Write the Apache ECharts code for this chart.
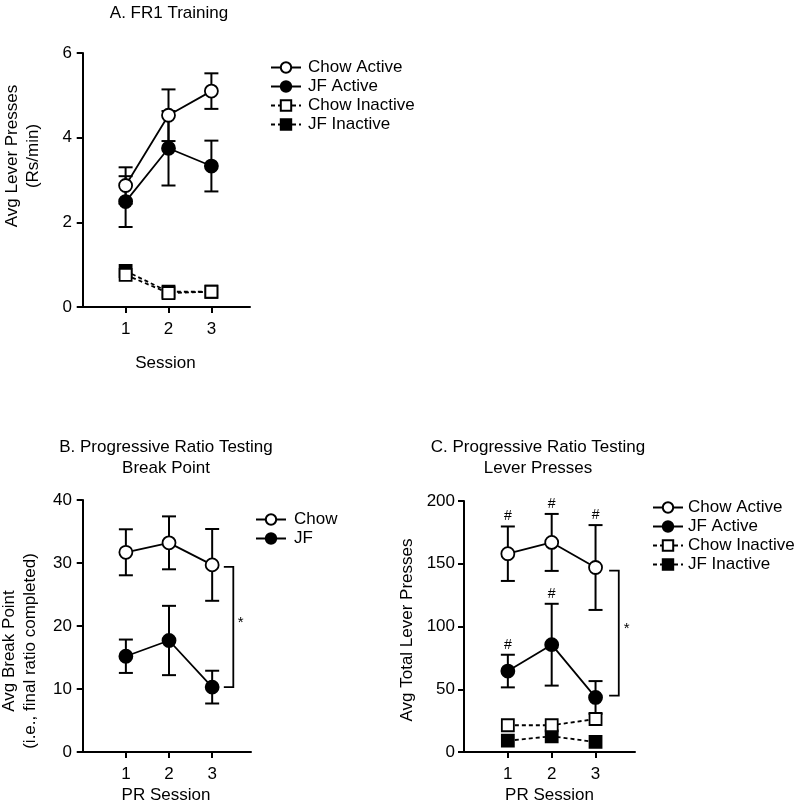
<!DOCTYPE html>
<html>
<head>
<meta charset="utf-8">
<script src="https://cdn.jsdelivr.net/npm/echarts@6/dist/echarts.min.js"></script>
<style>html,body{margin:0;padding:0;background:#fff}#c{width:800px;height:805px}</style>
</head>
<body>
<div id="c"></div>
<script>
// ---------- data ----------
const sessions = [1, 2, 3];
const sessionTicks = [1, 2, 3];

// Panel A: FR1 training (Rs/min)
const fr1ChowActive = [2.87, 4.53, 5.10];
const fr1ChowActiveSem = [0.43, 0.61, 0.42];
const fr1JFActive = [2.49, 3.75, 3.33];
const fr1JFActiveSem = [0.60, 0.88, 0.60];
const fr1ChowInactive = [0.76, 0.33, 0.36];
const fr1JFInactive = [0.85, 0.36, 0.36];
const fr1YTicks = [0, 2, 4, 6];

// Panel B: PR break point
const bpChow = [31.7, 33.2, 29.7];
const bpChowSem = [3.65, 4.2, 5.7];
const bpJF = [15.2, 17.7, 10.3];
const bpJFSem = [2.65, 5.5, 2.6];
const bpYTicks = [0, 10, 20, 30, 40];
const bpBracket = [29.4, 10.3];

// Panel C: PR lever presses
const lpChowActive = [158, 167, 147];
const lpChowActiveSem = [21.7, 22.7, 33.8];
const lpJFActive = [64.5, 85.5, 43.5];
const lpJFActiveSem = [13, 32.6, 13];
const lpChowInactive = [21.3, 21.3, 26.3];
const lpJFInactive = [9, 12.5, 8];
const lpYTicks = [0, 50, 100, 150, 200];
const lpBracket = [144.5, 45];
const lpChowHash = [true, true, true];
const lpJFHash = [true, true, false];

// ---------- helpers ----------
const FONT = "'Liberation Sans', Arial, sans-serif";
const BLACK = '#000';

function pts(xs, ys) { return xs.map((x, i) => [x, ys[i]]); }
function errData(xs, ys, sem) { return xs.map((x, i) => [x, ys[i] - sem[i], ys[i] + sem[i]]); }

function errSeries(idx, xs, ys, sem) {
  return {
    type: 'custom', xAxisIndex: idx, yAxisIndex: idx, z: 2, silent: true,
    data: errData(xs, ys, sem),
    renderItem: function (params, api) {
      const x = api.value(0);
      const lo = api.coord([x, api.value(1)]);
      const hi = api.coord([x, api.value(2)]);
      const w = 7;
      const st = { stroke: BLACK, lineWidth: 2 };
      return {
        type: 'group', children: [
          { type: 'line', shape: { x1: lo[0], y1: lo[1], x2: hi[0], y2: hi[1] }, style: st },
          { type: 'line', shape: { x1: hi[0] - w, y1: hi[1], x2: hi[0] + w, y2: hi[1] }, style: st },
          { type: 'line', shape: { x1: lo[0] - w, y1: lo[1], x2: lo[0] + w, y2: lo[1] }, style: st }
        ]
      };
    }
  };
}

function lineSeries(name, idx, xs, ys, opts) {
  return {
    name: name, type: 'line', xAxisIndex: idx, yAxisIndex: idx,
    data: pts(xs, ys), z: opts.z || 5,
    symbol: opts.symbol, symbolSize: opts.size || 13,
    lineStyle: { color: BLACK, width: 1.8, type: opts.dashed ? [4, 3] : 'solid' },
    itemStyle: { color: opts.filled ? BLACK : '#fff', borderColor: BLACK, borderWidth: 1.8 },
    emphasis: { disabled: true }, animation: false
  };
}

function bracketSeries(idx, x1, x2, xs, yv) {
  return {
    type: 'custom', xAxisIndex: idx, yAxisIndex: idx, z: 3, silent: true,
    data: [[x1, yv[0], yv[1], x2, xs]],
    renderItem: function (params, api) {
      const a = api.coord([api.value(0), api.value(1)]);
      const b = api.coord([api.value(3), api.value(1)]);
      const c = api.coord([api.value(3), api.value(2)]);
      const d = api.coord([api.value(0), api.value(2)]);
      const s = api.coord([api.value(4), (api.value(1) + api.value(2)) / 2]);
      return {
        type: 'group', children: [
          { type: 'polyline', shape: { points: [a, b, c, d] }, style: { stroke: BLACK, lineWidth: 1.8, fill: null } },
          { type: 'text', x: s[0], y: s[1] - 4, style: { text: '*', fill: BLACK, font: '15px ' + FONT, align: 'center', verticalAlign: 'middle' } }
        ]
      };
    }
  };
}

function hashSeries(idx, xs, ys, sem, flags) {
  const d = [];
  xs.forEach((x, i) => { if (flags[i]) d.push([x, ys[i] + sem[i]]); });
  return {
    type: 'custom', xAxisIndex: idx, yAxisIndex: idx, z: 3, silent: true, data: d,
    renderItem: function (params, api) {
      const p = api.coord([api.value(0), api.value(1)]);
      return { type: 'text', x: p[0], y: p[1] - 3, style: { text: '#', fill: BLACK, font: '14px ' + FONT, align: 'center', verticalAlign: 'bottom' } };
    }
  };
}

function xAxisCfg(idx, min, name, gap) {
  return {
    type: 'value', gridIndex: idx, min: min, max: 3.9,
    name: name, nameLocation: 'middle', nameGap: gap,
    nameTextStyle: { color: BLACK, fontSize: 17, fontFamily: FONT },
    axisLine: { show: true, lineStyle: { color: BLACK, width: 2 } },
    axisTick: { show: true, length: 6, lineStyle: { color: BLACK, width: 2 }, customValues: sessionTicks },
    axisLabel: { color: BLACK, fontSize: 17, fontFamily: FONT, margin: 14, customValues: sessionTicks },
    splitLine: { show: false }
  };
}
function yAxisCfg(idx, ticks) {
  return {
    type: 'value', gridIndex: idx, min: ticks[0], max: ticks[ticks.length - 1], interval: ticks[1] - ticks[0],
    axisLine: { show: true, lineStyle: { color: BLACK, width: 2 } },
    axisTick: { show: true, length: 6, lineStyle: { color: BLACK, width: 2 } },
    axisLabel: { color: BLACK, fontSize: 17, fontFamily: FONT, margin: 9 },
    splitLine: { show: false }
  };
}
function legendCfg(names, left, top, gap, pad) {
  return {
    data: names, left: left, top: top, orient: 'vertical', itemGap: gap,
    itemWidth: 30, itemHeight: 13, selectedMode: false, padding: 0,
    textStyle: { color: BLACK, fontSize: 17, fontFamily: FONT, padding: [0, 0, 0, pad] }
  };
}
function gtext(x, y, text, rot) {
  return {
    type: 'text', x: x, y: y, rotation: rot || 0,
    style: { text: text, fill: BLACK, font: '17px ' + FONT, align: 'center', verticalAlign: 'middle', lineHeight: 21 }
  };
}

const chart = echarts.init(document.getElementById('c'), null, { renderer: 'canvas' });
chart.setOption({
  animation: false,
  backgroundColor: '#fff',
  grid: [
    { left: 81, top: 53, width: 169, height: 254 },
    { left: 81, top: 500, width: 170, height: 253 },
    { left: 464, top: 501, width: 171, height: 253 }
  ],
  xAxis: [xAxisCfg(0, -0.04, 'Session', 48), xAxisCfg(1, -0.04, 'PR Session', 35), xAxisCfg(2, 0, 'PR Session', 35)],
  yAxis: [yAxisCfg(0, fr1YTicks), yAxisCfg(1, bpYTicks), yAxisCfg(2, lpYTicks)],
  legend: [
    legendCfg(['Chow Active', 'JF Active', 'Chow Inactive', 'JF Inactive'], 270, 59, 2, 2),
    legendCfg(['Chow', 'JF'], 255, 511, 2, 3),
    legendCfg(['Chow Active', 'JF Active', 'Chow Inactive', 'JF Inactive'], 652, 499, 2, 0)
  ],
  graphic: [
    gtext(169, 13, 'A. FR1 Training'),
    gtext(166, 458, 'B. Progressive Ratio Testing\nBreak Point'),
    gtext(538, 458, 'C. Progressive Ratio Testing\nLever Presses'),
    gtext(23, 156, 'Avg Lever Presses\n(Rs/min)', Math.PI / 2),
    gtext(20, 651, 'Avg Break Point\n(i.e., final ratio completed)', Math.PI / 2),
    gtext(407, 630, 'Avg Total Lever Presses', Math.PI / 2)
  ],
  series: [
    // Panel A
    errSeries(0, sessions, fr1ChowActive, fr1ChowActiveSem),
    errSeries(0, sessions, fr1JFActive, fr1JFActiveSem),
    lineSeries('Chow Active', 0, sessions, fr1ChowActive, { symbol: 'circle', filled: false, z: 6 }),
    lineSeries('JF Active', 0, sessions, fr1JFActive, { symbol: 'circle', filled: true, z: 5 }),
    lineSeries('Chow Inactive', 0, sessions, fr1ChowInactive, { symbol: 'rect', filled: false, dashed: true, z: 6, size: 12 }),
    lineSeries('JF Inactive', 0, sessions, fr1JFInactive, { symbol: 'rect', filled: true, dashed: true, z: 5, size: 12 }),
    // Panel B
    errSeries(1, sessions, bpChow, bpChowSem),
    errSeries(1, sessions, bpJF, bpJFSem),
    lineSeries('Chow', 1, sessions, bpChow, { symbol: 'circle', filled: false }),
    lineSeries('JF', 1, sessions, bpJF, { symbol: 'circle', filled: true }),
    bracketSeries(1, 3.27, 3.49, 3.66, bpBracket),
    // Panel C
    errSeries(2, sessions, lpChowActive, lpChowActiveSem),
    errSeries(2, sessions, lpJFActive, lpJFActiveSem),
    lineSeries('Chow Active', 2, sessions, lpChowActive, { symbol: 'circle', filled: false, z: 6 }),
    lineSeries('JF Active', 2, sessions, lpJFActive, { symbol: 'circle', filled: true, z: 5 }),
    lineSeries('Chow Inactive', 2, sessions, lpChowInactive, { symbol: 'rect', filled: false, dashed: true, z: 6, size: 12 }),
    lineSeries('JF Inactive', 2, sessions, lpJFInactive, { symbol: 'rect', filled: true, dashed: true, z: 5, size: 12 }),
    hashSeries(2, sessions, lpChowActive, lpChowActiveSem, lpChowHash),
    hashSeries(2, sessions, lpJFActive, lpJFActiveSem, lpJFHash),
    bracketSeries(2, 3.31, 3.53, 3.71, lpBracket)
  ]
});
</script>
</body>
</html>
